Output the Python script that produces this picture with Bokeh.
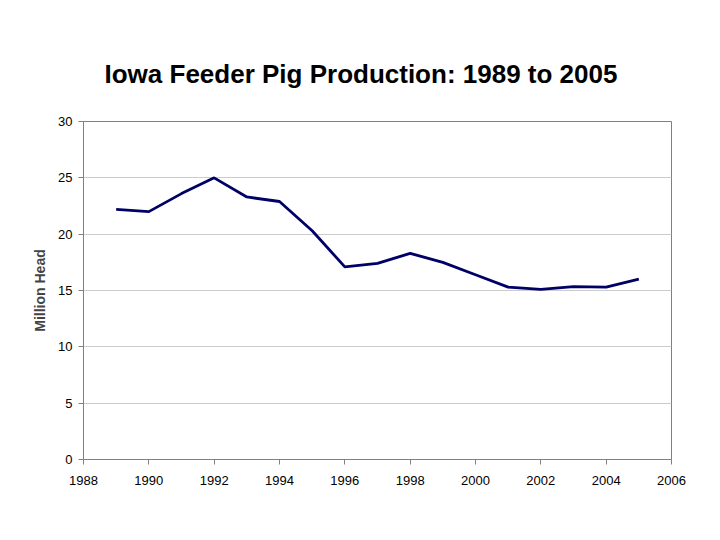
from bokeh.plotting import figure
from bokeh.models import Title, FixedTicker, Range1d
from bokeh.embed import file_html
from bokeh.resources import INLINE

years = [1989, 1990, 1991, 1992, 1993, 1994, 1995, 1996, 1997, 1998,
         1999, 2000, 2001, 2002, 2003, 2004, 2005]
million_head = [22.2, 22.0, 23.6, 25.0, 23.3, 22.9, 20.3, 17.1, 17.4, 18.3,
                17.5, 16.4, 15.3, 15.1, 15.35, 15.3, 16.0]
x_ticks = [1988, 1990, 1992, 1994, 1996, 1998, 2000, 2002, 2004, 2006]
y_ticks = [0, 5, 10, 15, 20, 25, 30]
title_text = "Iowa Feeder Pig Production: 1989 to 2005"
y_label = "Million Head"

p = figure(width=720, height=540, output_backend="svg", toolbar_location=None,
           x_range=Range1d(1988, 2006), y_range=Range1d(0, 30),
           min_border_left=83, min_border_right=49, min_border_top=121,
           min_border_bottom=81)
p.outline_line_color = "#808080"
p.outline_line_width = 1

p.line(years, million_head, line_color="#000066", line_width=2.8)

for ax in (p.xaxis[0], p.yaxis[0]):
    ax.axis_line_color = "#808080"
    ax.major_tick_line_color = "#808080"
    ax.minor_tick_line_color = None
    ax.major_tick_in = 0
    ax.major_tick_out = 5
    ax.major_label_text_font = "Liberation Sans"
    ax.major_label_text_font_size = "13px"
    ax.major_label_text_color = "#000000"

p.xaxis[0].ticker = FixedTicker(ticks=x_ticks)
p.yaxis[0].ticker = FixedTicker(ticks=y_ticks)
p.xaxis[0].major_label_standoff = 11
p.yaxis[0].major_label_standoff = 6
p.yaxis[0].axis_label = y_label
p.yaxis[0].axis_label_text_font = "Liberation Sans"
p.yaxis[0].axis_label_text_font_style = "bold"
p.yaxis[0].axis_label_text_font_size = "14px"
p.yaxis[0].axis_label_standoff = 7

p.xgrid.grid_line_color = None
p.ygrid.grid_line_color = "#cccccc"
p.ygrid.grid_line_width = 1

title = Title(text=title_text, align="left", offset=21, standoff=65,
              text_font="Liberation Sans", text_font_style="bold",
              text_font_size="26px", text_color="#000000")
p.add_layout(title, "above")

open("out.html", "w").write(file_html(p, INLINE))
